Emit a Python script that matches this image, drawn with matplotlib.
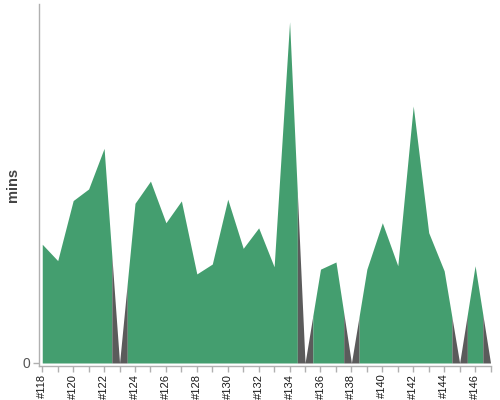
import numpy as np
import matplotlib
matplotlib.use("Agg")
import matplotlib.pyplot as plt

builds = list(range(118, 148))
durations = [3.48, 3.00, 4.76, 5.10, 6.29, 0.0, 4.68, 5.33, 4.11, 4.75,
             2.61, 2.90, 4.80, 3.36, 3.96, 2.82, 10.00, 0.0, 2.75, 2.96,
             0.0, 2.75, 4.11, 2.85, 7.53, 3.82, 2.70, 0.0, 2.85, 0.0]
status = ["ok", "ok", "ok", "ok", "ok", "fail", "ok", "ok", "ok", "ok",
          "ok", "ok", "ok", "ok", "ok", "ok", "ok", "fail", "ok", "ok",
          "fail", "ok", "ok", "ok", "ok", "ok", "ok", "fail", "ok", "fail"]
colors = {"ok": "#449e6f", "fail": "#5b5b5b"}
tick_labels = ["#%d" % b for b in builds]

plt.rcParams['font.family'] = ['Liberation Sans', 'DejaVu Sans']
fig = plt.figure(figsize=(5, 4), dpi=100)
ax = fig.add_axes([0.0774, 0.085, 0.9046, 0.905])

x = np.array(builds, dtype=float)
y = np.array(durations)

# group consecutive builds with same status into runs
runs = []
start = 0
for i in range(1, len(builds) + 1):
    if i == len(builds) or status[i] != status[start]:
        runs.append((start, i - 1))
        start = i
for s, e in runs:
    lo = max(x[0], x[s] - 0.5)
    hi = min(x[-1], x[e] + 0.5)
    xs = sorted(set([lo] + list(x[s:e + 1]) + [hi]))
    ys = np.interp(xs, x, y)
    ax.fill_between(xs, 0, ys, color=colors[status[s]], linewidth=0,
                    antialiased=True)

ax.set_xlim(117.77, 147.03)
ax.set_ylim(-0.088, 10.52)

for sp in ["top", "right"]:
    ax.spines[sp].set_visible(False)
for sp in ["left", "bottom"]:
    ax.spines[sp].set_color("#b0b0b0")
    ax.spines[sp].set_linewidth(1)

ax.set_yticks([0])
ax.set_yticklabels(["0"], fontsize=10, color="#555555")
ax.set_xticks(builds[::2])
ax.set_xticklabels(tick_labels[::2], rotation=90, fontsize=8, color="#1a1a1a")
ax.set_xticks(builds[1::2], minor=True)
ax.tick_params(axis="both", which="both", color="#b0b0b0", length=4, width=1, pad=2)
ax.tick_params(axis="x", which="both", pad=1.5)
ax.set_ylabel("mins", fontsize=10.5, fontweight="bold", color="#444444")
ax.yaxis.set_label_coords(-0.057, 0.5)
ax.yaxis.label.set_va("center")

fig.savefig("out.png", dpi=100)
